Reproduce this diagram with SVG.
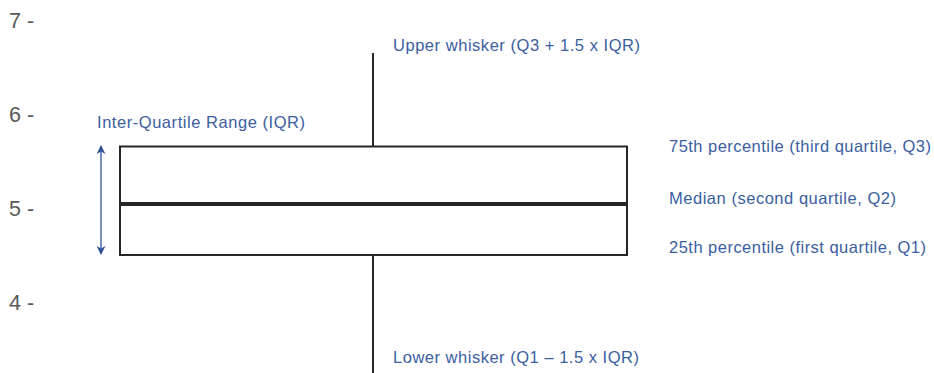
<svg xmlns="http://www.w3.org/2000/svg" width="934" height="373" viewBox="0 0 934 373">
<style>
.ax{font-family:"Liberation Sans",Arial,sans-serif;font-size:21.5px;fill:#595959}
.lb{font-family:"Liberation Sans",Arial,sans-serif;font-size:16.5px;fill:#3b5ea1}
.ln{stroke:#262626;fill:none}
</style>
<defs>
<marker id="ah" viewBox="0 0 10 10" refX="9" refY="5" markerWidth="9" markerHeight="9" orient="auto-start-reverse" markerUnits="userSpaceOnUse">
<path d="M0,0 L10,5 L0,10 L3,5 Z" fill="#2f5597"/>
</marker>
</defs>
<g id="axis">
<text class="ax" x="9" y="28">7 -</text>
<text class="ax" x="9" y="122">6 -</text>
<text class="ax" x="9" y="216">5 -</text>
<text class="ax" x="9" y="310">4 -</text>
</g>
<g id="connectors">
<line class="ln" x1="373" y1="53" x2="373" y2="146" stroke-width="2"/>
<line class="ln" x1="373" y1="255" x2="373" y2="373" stroke-width="2"/>
<line x1="101" y1="146" x2="101" y2="254" stroke="#2f5597" stroke-width="1.3" marker-start="url(#ah)" marker-end="url(#ah)"/>
</g>
<g id="box">
<rect class="ln" x="120" y="146.5" width="507" height="108.5" stroke-width="2"/>
<line class="ln" x1="120" y1="204" x2="627" y2="204" stroke-width="4"/>
</g>
<g id="labels">
<text class="lb" x="97" y="128" textLength="208" lengthAdjust="spacing">Inter-Quartile Range (IQR)</text>
<text class="lb" x="393" y="51" textLength="247" lengthAdjust="spacing">Upper whisker (Q3 + 1.5 x IQR)</text>
<text class="lb" x="669" y="152" textLength="262" lengthAdjust="spacing">75th percentile (third quartile, Q3)</text>
<text class="lb" x="669" y="204" textLength="227" lengthAdjust="spacing">Median (second quartile, Q2)</text>
<text class="lb" x="669" y="253" textLength="257" lengthAdjust="spacing">25th percentile (first quartile, Q1)</text>
<text class="lb" x="393" y="363" textLength="246" lengthAdjust="spacing">Lower whisker (Q1 – 1.5 x IQR)</text>
</g>
</svg>
